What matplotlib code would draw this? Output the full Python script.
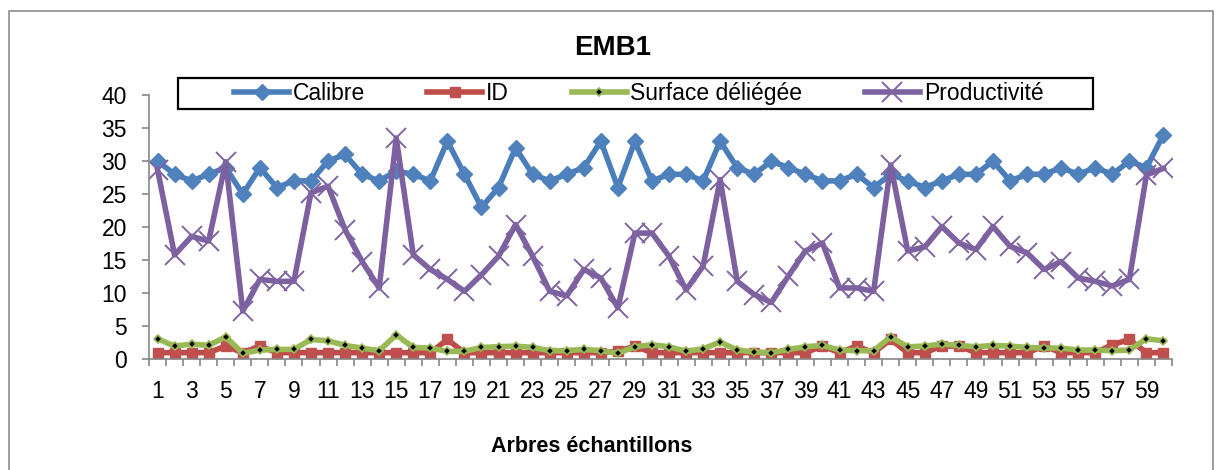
import matplotlib
matplotlib.use("Agg")
import matplotlib.pyplot as plt
from matplotlib.patches import Rectangle

plt.rcParams['font.family'] = ['Liberation Sans', 'DejaVu Sans']

# Données (60 arbres)
arbres = list(range(1, 61))
calibre = [30, 28, 27, 28, 29, 25, 29, 26, 27, 27, 30, 31, 28, 27, 28.5,
           28, 27, 33, 28, 23, 26, 32, 28, 27, 28, 29, 33, 26, 33, 27,
           28, 28, 27, 33, 29, 28, 30, 29, 28, 27, 27, 28, 26, 28, 27,
           26, 27, 28, 28, 30, 27, 28, 28, 29, 28, 29, 28, 30, 29, 34]
id_vals = [1, 1, 1, 1, 2, 1, 2, 1, 1, 1, 1, 1, 1, 1, 1,
           1, 1, 3, 1, 1, 1, 1, 1, 1, 1, 1, 1, 1.2, 2, 1,
           1, 1, 1, 1, 1, 1, 1, 1, 1, 2, 1, 2, 1, 3, 1,
           1, 2, 2, 1, 1, 1, 1, 2, 1, 1, 1, 2.2, 3, 1, 1]
surface = [3.1, 2.0, 2.3, 2.1, 3.4, 0.9, 1.4, 1.5, 1.5, 3.0, 2.8, 2.1, 1.7, 1.3, 3.7,
           1.8, 1.7, 1.2, 1.2, 1.8, 1.9, 2.0, 1.8, 1.3, 1.3, 1.5, 1.3, 0.9, 1.9, 2.2,
           1.9, 1.2, 1.6, 2.6, 1.4, 1.1, 1.0, 1.5, 1.9, 2.1, 1.4, 1.3, 1.3, 3.4, 1.9,
           2.0, 2.3, 2.1, 1.9, 2.1, 2.0, 1.8, 1.7, 1.7, 1.4, 1.4, 1.3, 1.4, 3.1, 2.8]
productivite = [28.7, 15.8, 18.6, 17.9, 29.9, 7.3, 12.1, 11.8, 11.8, 25.2, 26.2, 19.6, 14.8, 10.8, 33.5,
                15.8, 13.6, 12.1, 10.3, 12.8, 15.6, 20.4, 15.6, 10.3, 9.6, 13.6, 12.3, 7.8, 19.1, 19.1,
                15.6, 10.5, 14.1, 27.2, 11.8, 9.8, 8.6, 12.6, 16.4, 17.6, 10.8, 10.8, 10.3, 29.4, 16.4,
                17.0, 20.1, 17.6, 16.6, 20.1, 17.1, 16.1, 13.6, 14.8, 12.3, 11.8, 11.1, 12.1, 27.9, 28.9]
y_ticks = [0, 5, 10, 15, 20, 25, 30, 35, 40]

W, H = 1219, 470
fig = plt.figure(figsize=(W / 100, H / 100), dpi=100)
ax = fig.add_axes([149 / W, 1 - 359.3 / H, (1172 - 149) / W, (359.3 - 95) / H])

fs = 16.5
lw = 4
l1, = ax.plot(arbres, calibre, color='#4A7EBB', lw=lw, marker='D', ms=8.5,
              mfc='#4F81BD', mec='#4F81BD', label='Calibre')
l2, = ax.plot(arbres, id_vals, color='#BE4B48', lw=lw, marker='s', ms=6.5,
              mfc='#C0504D', mec='#C0504D', label='ID')
l3, = ax.plot(arbres, surface, color='#98B954', lw=lw, marker='D', ms=4.5,
              mfc='black', mec='#98B954', mew=1.2, label='Surface déliégée')
l4, = ax.plot(arbres, productivite, color='#7D60A0', lw=lw, marker='x', ms=14,
              mew=1.4, mec='#8064A2', label='Productivité')

ax.set_xlim(0.5, 60.5)
ax.set_ylim(0, 40)
ax.set_yticks(y_ticks)
ax.set_xticks([i + 0.5 for i in range(0, 61)])
ax.set_xticklabels([])
ax.set_xticks(arbres[::2], [str(a) for a in arbres[::2]], minor=True)
ax.tick_params(axis='x', which='major', length=5, width=1.2, color='#868686', direction='out')
ax.tick_params(axis='x', which='minor', length=0, pad=15, labelsize=fs)
ax.tick_params(axis='y', length=5, width=1.2, color='#868686', pad=11, labelsize=fs)
for s in ['top', 'right']:
    ax.spines[s].set_visible(False)
for s in ['left', 'bottom']:
    ax.spines[s].set_color('#868686')
    ax.spines[s].set_linewidth(1.2)

fig.text(613 / W, 1 - 48 / H, 'EMB1', ha='center', va='center', fontsize=20, fontweight='bold')
fig.text(592 / W, 1 - 447 / H, 'Arbres échantillons', ha='center', va='center',
         fontsize=15.5, fontweight='bold')

# cadre extérieur et cadre de la légende
fig.patches.append(Rectangle((9 / W, -0.02), 1204 / W, 1.02 - 11 / H, transform=fig.transFigure,
                             fill=False, ec='#8c8c8c', lw=1.2, zorder=0))
fig.patches.append(Rectangle((177.5 / W, 1 - 109 / H), 915.5 / W, 31.5 / H, transform=fig.transFigure,
                             fc='white', ec='black', lw=1.6, zorder=4))

fig.legend(handles=[l1, l2, l3, l4], loc='center left', bbox_to_anchor=(234 / W, 1 - 93.3 / H),
           ncol=4, frameon=False, fontsize=fs, handlelength=2.4, handletextpad=0.17,
           columnspacing=2.72, borderpad=0, borderaxespad=0)

fig.savefig('out.png', dpi=100)
